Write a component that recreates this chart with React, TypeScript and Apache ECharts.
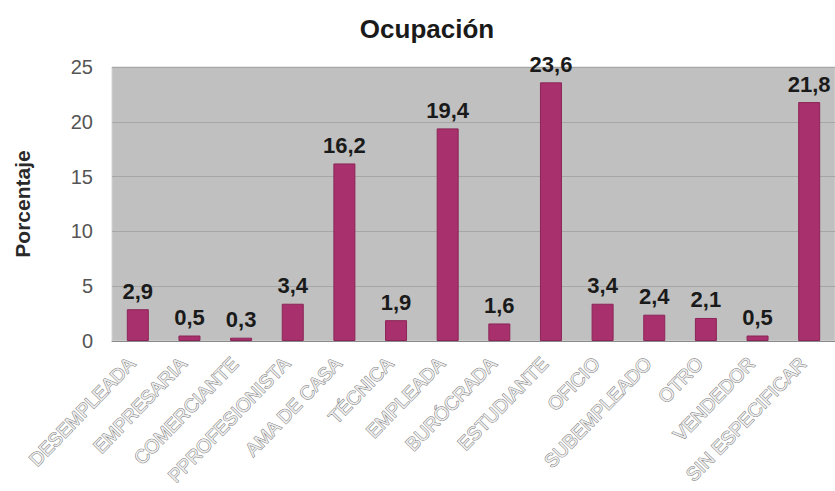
import React, { useEffect, useRef } from "react";
import * as echarts from "echarts";

const categories = [
  "DESEMPLEADA",
  "EMPRESARIA",
  "COMERCIANTE",
  "PPROFESIONISTA",
  "AMA DE CASA",
  "TÉCNICA",
  "EMPLEADA",
  "BURÓCRADA",
  "ESTUDIANTE",
  "OFICIO",
  "SUBEMPLEADO",
  "OTRO",
  "VENDEDOR",
  "SIN ESPECIFICAR",
];

const porcentajes = [2.9, 0.5, 0.3, 3.4, 16.2, 1.9, 19.4, 1.6, 23.6, 3.4, 2.4, 2.1, 0.5, 21.8];

const chartTitle = "Ocupación";
const yAxisName = "Porcentaje";
const yMin = 0;
const yMax = 25;
const yStep = 5;

const FONT = "'Liberation Sans', Arial, sans-serif";

export default function App() {
  const ref = useRef<HTMLDivElement>(null);

  useEffect(() => {
    if (!ref.current) return;
    const chart = echarts.init(ref.current, null, { renderer: "svg" });
    chart.setOption({
      animation: false,
      backgroundColor: "#ffffff",
      textStyle: { fontFamily: FONT },
      title: {
        text: chartTitle,
        left: 422,
        top: 11,
        textAlign: "center",
        textStyle: { fontFamily: FONT, fontSize: 26, fontWeight: "bold", color: "#1a1a1a" },
      },
      grid: { left: 112, right: 0, top: 67, bottom: 150, show: true, backgroundColor: "#c0c0c0", borderColor: "#d4d4d4", borderWidth: 1 },
      xAxis: {
        type: "category",
        data: categories,
        axisLine: { show: true, lineStyle: { color: "#8a8a8a", width: 1 } },
        axisTick: { show: false },
        axisLabel: {
          interval: 0,
          rotate: 46,
          margin: 13,
          padding: [0, 9, 0, 0],
          fontFamily: FONT,
          fontSize: 19,
          color: "#ececec",
          textBorderColor: "#7a7a7a",
          textBorderWidth: 1,
        },
      },
      yAxis: {
        type: "value",
        min: yMin,
        max: yMax,
        interval: yStep,
        name: yAxisName,
        nameLocation: "middle",
        nameRotate: 90,
        nameGap: 79,
        nameTextStyle: { fontFamily: FONT, fontSize: 21, fontWeight: "bold", color: "#2a2a2a" },
        axisLine: { show: false },
        axisTick: { show: false },
        axisLabel: { margin: 19, fontFamily: FONT, fontSize: 20, color: "#555555" },
        splitLine: { show: true, lineStyle: { color: "#a6a6a6", width: 1 } },
      },
      series: [
        {
          type: "bar",
          data: porcentajes,
          barWidth: 22,
          itemStyle: { color: "#a8306c", borderColor: "#8c2558", borderWidth: 1 },
          label: {
            show: true,
            position: "top",
            distance: 7,
            fontFamily: FONT,
            fontSize: 22,
            fontWeight: "bold",
            color: "#1a1a1a",
            formatter: (p: any) => String(p.value).replace(".", ","),
          },
        },
      ],
    });
    return () => chart.dispose();
  }, []);

  return <div ref={ref} style={{ position: "fixed", left: 0, top: 0, width: 835, height: 491 }} />;
}
